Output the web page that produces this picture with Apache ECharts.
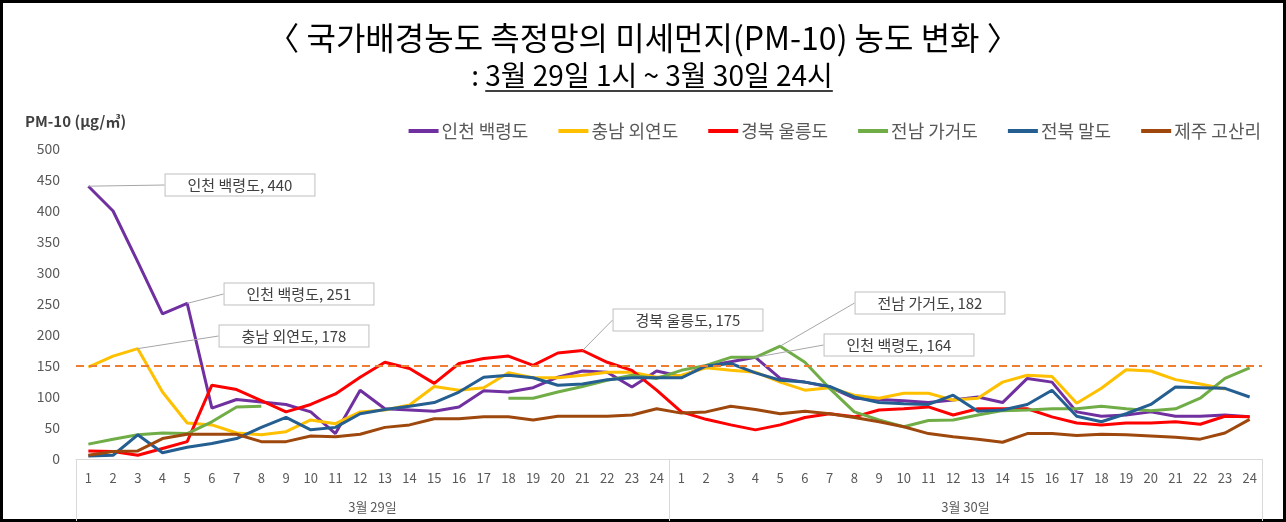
<!DOCTYPE html>
<html>
<head>
<meta charset="utf-8">
<script src="https://cdn.jsdelivr.net/npm/echarts@6/dist/echarts.min.js"></script>
<style>
    html, body { margin: 0; padding: 0; background: #fff; }
    #main { width: 1286px; height: 522px; }
</style>
</head>
<body>
<div id="main"></div>
<script type="text/javascript">
    // 시간 (3월 29일 1~24시, 3월 30일 1~24시)
    var hours = [];
    for (var h = 1; h <= 24; h++) hours.push(String(h));
    var hourLabels = hours.concat(hours);
    var days = ['3월 29일', '3월 30일'];

    // 측정소별 PM-10 농도 (μg/㎥)
    var baengnyeong = [440, 400, 318, 234, 251, 82, 96, 92, 88, 76, 41, 111, 81, 79, 77, 84, 110, 108, 115, 132, 142, 140, 116, 142,
        133, 150, 157, 164, 130, 124, 116, 98, 96, 94, 91, 95, 100, 91, 130, 124, 76, 69, 71, 76, 69, 69, 71, 68];
    var oeyeondo = [148, 166, 178, 108, 58, 55, 42, 39, 44, 63, 57, 76, 79, 87, 117, 111, 115, 139, 131, 131, 135, 140, 140, 132,
        135, 147, 143, 140, 124, 111, 115, 103, 98, 106, 106, 95, 98, 124, 135, 133, 90, 114, 144, 142, 128, 121, 113, null];
    var ulleungdo = [13, 12, 6, 17, 28, 119, 112, 94, 76, 88, 105, 132, 156, 146, 122, 154, 162, 166, 151, 171, 175, 156, 143, 111,
        76, 64, 55, 47, 55, 67, 73, 68, 79, 81, 84, 71, 81, 81, 81, 68, 58, 55, 58, 58, 60, 56, 69, 68];
    var gageodo = [24, 32, 39, 42, 41, 60, 84, 85, null, null, null, null, null, null, null, null, null, 98, 98, 108, 117, 127, 135, 130,
        143, 151, 164, 164, 182, 156, 114, 76, 63, 52, 62, 63, 71, 78, 79, 81, 81, 85, 81, 78, 81, 98, 130, 147];
    var maldo = [5, 6, 39, 10, 19, 25, 33, 51, 67, 47, 51, 73, 80, 85, 91, 108, 132, 135, 131, 119, 121, 128, 131, 131,
        131, 150, 154, 139, 127, 124, 117, 100, 91, 89, 88, 103, 77, 79, 88, 111, 69, 60, 73, 88, 116, 115, 114, 100];
    var gosanri = [6, 12, 13, 33, 40, 40, 40, 28, 28, 37, 36, 40, 51, 55, 65, 65, 68, 68, 63, 69, 69, 69, 71, 81,
        74, 76, 85, 80, 73, 77, 73, 67, 60, 52, 41, 36, 32, 27, 41, 41, 38, 40, 39, 37, 35, 32, 42, 64];

    var names = ['인천 백령도', '충남 외연도', '경북 울릉도', '전남 가거도', '전북 말도', '제주 고산리'];
    var colors = ['#7030A0', '#FFC000', '#FF0000', '#70AD47', '#255E91', '#9E480E'];
    var values = [baengnyeong, oeyeondo, ulleungdo, gageodo, maldo, gosanri];
    var standard = 150;

    // 데이터 레이블(말풍선) 위치: 시리즈, 시간 인덱스, 박스 중심
    var callouts = [
        {s: 0, i: 0, x: 240, y: 185},
        {s: 0, i: 4, x: 299, y: 294},
        {s: 1, i: 2, x: 294, y: 336},
        {s: 2, i: 20, x: 688, y: 320},
        {s: 3, i: 28, x: 930, y: 303},
        {s: 0, i: 27, x: 899, y: 345}
    ];

    function findCallout(s, i) {
        for (var k = 0; k < callouts.length; k++) {
            if (callouts[k].s === s && callouts[k].i === i) return callouts[k];
        }
        return null;
    }

    var FONT = '"Noto Sans CJK KR", "Noto Sans", sans-serif';

    var series = values.map(function (vals, s) {
        return {
            name: names[s],
            type: 'line',
            // 레이블은 심볼에 붙으므로 크기 0 심볼을 둔다
            showSymbol: true,
            showAllSymbol: true,
            symbol: 'circle',
            symbolSize: 0,
            connectNulls: false,
            lineStyle: {width: 3, color: colors[s]},
            itemStyle: {color: colors[s]},
            data: vals.map(function (v, i) {
                if (findCallout(s, i)) {
                    return {value: v, label: {show: true}};
                }
                return v;
            }),
            label: {
                show: false,
                formatter: '{a}, {c}',
                fontFamily: FONT,
                fontSize: 15,
                color: '#404040',
                backgroundColor: '#fff',
                borderColor: '#bfbfbf',
                borderWidth: 1,
                padding: [3, 22]
            },
            labelLine: {
                show: true,
                lineStyle: {color: '#a6a6a6', width: 1}
            },
            labelLayout: function (p) {
                var c = findCallout(p.seriesIndex, p.dataIndex);
                if (!c) return {};
                return {x: c.x, y: c.y, align: 'center', verticalAlign: 'middle'};
            },
            emphasis: {disabled: true}
        };
    });

    // 기준선 150
    series[0].markLine = {
        silent: true,
        symbol: ['none', 'none'],
        label: {show: false},
        lineStyle: {color: '#ED7D31', type: [8, 5], width: 2},
        data: [{yAxis: standard}]
    };

    // 부제 밑줄 길이 계산
    var subText = ': 3월 29일 1시 ~ 3월 30일 24시';
    var subFont = '28px ' + FONT;
    var ctx = document.createElement('canvas').getContext('2d');
    ctx.font = subFont;
    var wAll = ctx.measureText(subText).width;
    var wColon = ctx.measureText(': ').width;
    var cx = 652;

    var chart = echarts.init(document.getElementById('main'));
    var option = {
        animation: false,
        textStyle: {fontFamily: FONT},
        title: {
            text: '〈 국가배경농도 측정망의 미세먼지(PM-10) 농도 변화 〉',
            left: 'center',
            top: 17,
            textStyle: {fontFamily: FONT, fontSize: 32, fontWeight: 'normal', color: '#000'}
        },
        legend: {
            data: names,
            top: 117,
            right: 20,
            icon: 'rect',
            itemWidth: 30,
            itemHeight: 4,
            itemGap: 30,
            textStyle: {fontFamily: FONT, fontSize: 18, color: '#595959', padding: [0, 0, 0, -2]}
        },
        grid: {left: 76, right: 24, top: 149, bottom: 63, containLabel: false},
        xAxis: [{
            type: 'category',
            data: hourLabels,
            boundaryGap: true,
            axisLine: {show: true, lineStyle: {color: '#d9d9d9'}},
            axisTick: {show: false},
            axisLabel: {interval: 0, margin: 13, fontSize: 13, color: '#595959'}
        }, {
            type: 'category',
            data: days,
            position: 'bottom',
            boundaryGap: true,
            axisLine: {show: false},
            axisTick: {show: true, length: 62, lineStyle: {color: '#d9d9d9'}},
            axisLabel: {margin: 42, fontSize: 13, color: '#595959'}
        }],
        yAxis: {
            type: 'value',
            min: 0,
            max: 500,
            interval: 50,
            axisLine: {show: false},
            axisTick: {show: false},
            splitLine: {show: false},
            axisLabel: {margin: 16, fontSize: 14, color: '#595959'}
        },
        graphic: [
            {
                type: 'text', x: cx, y: 75,
                style: {text: subText, font: subFont, fill: '#000', textAlign: 'center', textVerticalAlign: 'middle'}
            },
            {
                type: 'line',
                shape: {x1: cx - wAll / 2 + wColon, y1: 91, x2: cx + wAll / 2, y2: 91},
                style: {stroke: '#000', lineWidth: 1.5}
            },
            {
                type: 'text', x: 25, y: 121,
                style: {text: 'PM-10 (μg/㎥)', font: 'bold 15px ' + FONT, fill: '#404040', textVerticalAlign: 'middle'}
            },
            {
                type: 'rect',
                shape: {x: 1.5, y: 1.5, width: 1283, height: 519},
                style: {fill: 'none', stroke: '#000', lineWidth: 3}
            }
        ],
        series: series
    };
    chart.setOption(option);
</script>
</body>
</html>
